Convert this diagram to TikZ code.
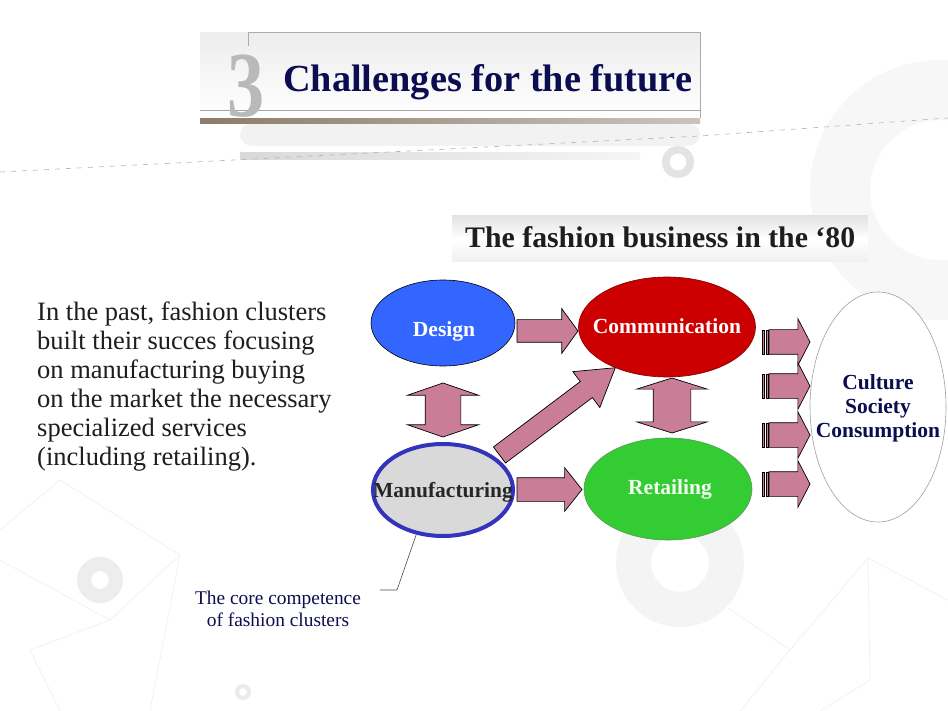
\documentclass[tikz,border=0pt]{standalone}
\usepackage{graphicx}
\usepackage{fontspec}
\setmainfont{Liberation Serif}
\usetikzlibrary{shapes.geometric,shapes.arrows,calc}
\definecolor{arrowpink}{RGB}{201,125,150}
\definecolor{designblue}{RGB}{51,102,255}
\definecolor{commred}{RGB}{204,0,0}
\definecolor{commredline}{RGB}{130,0,0}
\definecolor{retgreen}{RGB}{51,204,51}
\definecolor{retline}{RGB}{90,150,90}
\definecolor{manfill}{RGB}{217,217,217}
\definecolor{manline}{RGB}{51,51,187}
\definecolor{navytext}{RGB}{12,12,80}
\definecolor{darktext}{RGB}{30,30,30}
\definecolor{brownbar}{RGB}{140,124,106}
\begin{document}
\begin{tikzpicture}[x=1pt,y=-1pt,
  blk/.style={draw=black, line width=0.7pt, fill=arrowpink, inner xsep=0pt, outer sep=0pt},
  sarrow/.style={blk, single arrow, single arrow head indent=0pt, minimum width=1pt},
  darrow/.style={blk, double arrow, double arrow head indent=0pt, minimum width=1pt},
  oval/.style={ellipse, inner sep=0pt},
  lbl/.style={font=\fontsize{21.5}{24}\selectfont\bfseries, inner sep=0pt},
  ring/.style={fill=#1, even odd rule},
  faint/.style={draw=gray!10, line width=0.8pt}
]
\useasboundingbox (0,0) rectangle (948,711);
\fill[white] (0,0) rectangle (948,711);

% ---------- background decoration ----------
\fill[ring=gray!6] (940,190) circle (130) (940,190) circle (70);
\fill[ring=gray!22] (678,162) circle (16) (678,162) circle (8.5);
\fill[ring=gray!9] (680,563) circle (64) (680,563) circle (29);
\fill[ring=gray!14] (100,580) circle (23) (100,580) circle (9);
\fill[ring=gray!16] (243,692) circle (8) (243,692) circle (4);
\draw[faint] (0,530) -- (60,480) -- (180,555) -- (110,620) -- (0,560);
\draw[faint] (110,620) -- (30,650) -- (60,711);
\draw[faint] (180,555) -- (150,711);
\draw[faint] (740,711) -- (790,650) -- (868,558) -- (948,600);
\draw[faint] (868,558) -- (870,680) -- (820,711);
\draw[faint] (790,650) -- (728,608);

% ---------- title banner ----------
\fill[top color=gray!14, bottom color=white] (200,33) rectangle (700,119);
\fill[gray!10, rounded corners=12pt] (240,123) -- (700,123) -- (700,146) -- (240,146) -- cycle;
\fill[left color=gray!30, right color=gray!8] (240,153) rectangle (640,160);
\draw[gray!65, line width=1pt] (248,46) -- (248,33) -- (700,33) -- (700,118);
\draw[brownbar!70, line width=0.6pt] (200,110) -- (700,110);
\fill[left color=brownbar, right color=brownbar!45] (200,119) rectangle (700,124);
\draw[gray!60, dash pattern=on 5pt off 6pt, line width=0.6pt] (0,172) -- (700,136) -- (948,118);
\node[anchor=base, inner sep=0pt, text=gray!55, font=\fontsize{93}{93}\selectfont\bfseries] (three) at (246.5,117) {\scalebox{0.8}[1]{3}};
\node[anchor=base west, inner sep=0pt, text=navytext, font=\fontsize{38.3}{40}\selectfont\bfseries] (title) at (283,92) {Challenges for the future};

% ---------- subtitle ----------
\fill[top color=gray!22, bottom color=gray!12, middle color=white] (452,216) rectangle (868,262);
\node[anchor=base west, inner sep=0pt, text=darktext, font=\fontsize{29.8}{32}\selectfont\bfseries] (subtitle) at (465,248) {The fashion business in the \textquoteleft 80};

% ---------- left paragraph ----------
\node[anchor=north west, inner sep=0pt, align=left, text=darktext, font=\fontsize{26.5}{29}\selectfont] (para) at (37,302)
 {In the past, fashion clusters\\built their succes focusing\\on manufacturing  buying\\on the market the necessary\\specialized services\\(including retailing).};

% ---------- ellipses ----------
\node[oval, draw=black, line width=0.6pt, fill=designblue, minimum width=144pt, minimum height=86pt] (design) at (443,323) {};
\node[oval, draw=commredline, line width=0.6pt, fill=commred, minimum width=177pt, minimum height=100pt] (comm) at (667,327) {};
\node[oval, draw=manline, line width=4pt, fill=manfill, minimum width=140pt, minimum height=92pt] (manuf) at (443,490) {};
\node[oval, draw=retline, line width=0.6pt, fill=retgreen, minimum width=168pt, minimum height=102pt] (retail) at (668,489) {};
\node[oval, draw=gray!75, line width=0.6pt, fill=white, minimum width=136pt, minimum height=230pt] (culture) at (878,407) {};

\node[lbl, text=white, anchor=base] (designlbl) at (444,336.5) {Design};
\node[lbl, text=white, anchor=base] (commlbl) at (667,334) {Communication};
\node[lbl, text=black!85, anchor=base] (manuflbl) at (443,497) {Manufacturing};
\node[lbl, text=white!95!green, anchor=base] (retaillbl) at (670,494) {Retailing};
\node[lbl, text=navytext, align=center] (culturelbl) at (878,408) {Culture\\Society\\Consumption};

% ---------- block arrows ----------
\node[sarrow, minimum height=61pt, inner ysep=11pt, single arrow head extend=11pt, single arrow tip angle=108, anchor=tail] (d2c) at (517,331) {};
\node[sarrow, minimum height=65pt, inner ysep=11.5pt, single arrow head extend=10pt, single arrow tip angle=103, anchor=tail] (m2r) at (517,489.5) {};
\node[sarrow, minimum height=145pt, inner ysep=9.7pt, single arrow head extend=12.4pt, single arrow tip angle=63.5, anchor=tail, rotate=37] (m2c) at (499.5,455) {};
\node[darrow, minimum height=54pt, inner ysep=17.5pt, double arrow head extend=17.5pt, double arrow tip angle=142, rotate=90] (dm) at (443,410) {};
\node[darrow, minimum height=55pt, inner ysep=18.5pt, double arrow head extend=16.5pt, double arrow tip angle=145, rotate=90] (cr) at (672,405.5) {};

\foreach \i/\yy in {1/342,2/386,3/435,4/484}{
  \node[sarrow, minimum height=41pt, inner ysep=12pt, single arrow head extend=11pt, single arrow tip angle=125, anchor=tail] (out\i) at (769,\yy) {};
  \draw[blk, line width=0.6pt] (762,\yy-12) rectangle (764.5,\yy+12);
  \draw[blk, line width=0.6pt] (766,\yy-12) rectangle (768.5,\yy+12);
}

% ---------- caption ----------
\coordinate (bend) at (397,590);
\coordinate (capend) at (380,590);
\draw[black!70, line width=0.6pt] (manuf.-121) -- (bend) -- (capend);
\node[align=center, inner sep=0pt, text=navytext, font=\fontsize{19.4}{22}\selectfont] (caption) at (278,609) {The core competence\\of fashion clusters};
\end{tikzpicture}
\end{document}
